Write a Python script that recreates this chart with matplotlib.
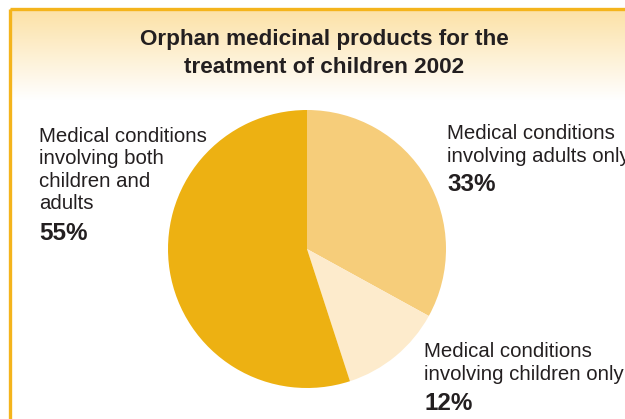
import matplotlib.pyplot as plt
import numpy as np
from matplotlib.colors import LinearSegmentedColormap

plt.rcParams['font.family'] = ['Liberation Sans', 'DejaVu Sans']

title_lines = ["Orphan medicinal products for the", "treatment of children 2002"]
shares = [33, 12, 55]
groups = ["Medical conditions\ninvolving adults only",
          "Medical conditions\ninvolving children only",
          "Medical conditions\ninvolving both\nchildren and\nadults"]
slice_colors = ["#F6CD7A", "#FDEBCC", "#EDB112"]
frame_color = "#F4B41C"

W, H = 625, 419
fig = plt.figure(figsize=(W / 100, H / 100), dpi=100)
ax = fig.add_axes([0, 0, 1, 1])


def y(px):
    # pixel rows counted from the top
    return H - px


# header band fading from pale orange to white
fade = LinearSegmentedColormap.from_list("fade", ["#FCE1A6", "#FFFFFF"])
grad = np.linspace(0, 1, 200).reshape(-1, 1)
ax.imshow(grad, cmap=fade, aspect="auto", extent=[10, W, y(100), y(10)],
          origin="upper", zorder=0)

# frame lines on the left and top
ax.plot([10, 10], [0, y(9)], color=frame_color, lw=2.4, solid_capstyle="butt")
ax.plot([10, W], [y(9), y(9)], color=frame_color, lw=2.4, solid_capstyle="butt")

for i, line in enumerate(title_lines):
    ax.text(324, y(45 + i * 28), line, ha="center", va="baseline",
            fontsize=16.2, fontweight="bold", color="#231F20")

ax.pie(shares, colors=slice_colors, startangle=90, counterclock=False,
       center=(307, y(249)), radius=139, frame=True,
       wedgeprops=dict(linewidth=0))
ax.set_xlim(0, W)
ax.set_ylim(0, H)
ax.set_aspect("equal")
ax.axis("off")

label_size = 14.7
pct_size = 17.5
line_gap = 22.5
label_spots = [(447, 139), (424, 357), (39, 142)]
for text, share, (lx, base) in zip(groups, shares, label_spots):
    lines = text.split("\n")
    for i, line in enumerate(lines):
        ax.text(lx, y(base + i * line_gap), line, ha="left", va="baseline",
                fontsize=label_size, color="#231F20")
    ax.text(lx, y(base + (len(lines) - 1) * line_gap + 30), f"{share}%",
            ha="left", va="baseline", fontsize=pct_size, fontweight="bold",
            color="#231F20")

fig.savefig("out.png", dpi=100)
